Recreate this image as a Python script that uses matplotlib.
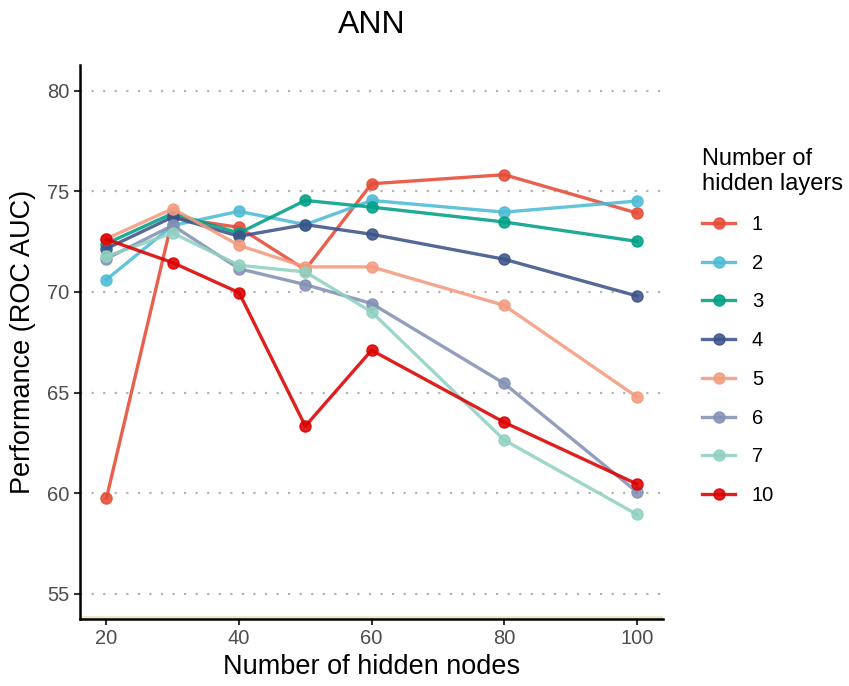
import matplotlib.pyplot as plt
from matplotlib.lines import Line2D

plt.rcParams['font.family'] = ['Liberation Sans', 'DejaVu Sans']

nodes = [20, 30, 40, 50, 60, 80, 100]
layers = ['1', '2', '3', '4', '5', '6', '7', '10']
colors = ['#E64B35', '#4DBBD5', '#00A087', '#3C5488',
          '#F39B7F', '#8491B4', '#91D1C2', '#DC0000']

auc_1 = [59.76, 73.7, 73.2, 71.1, 75.37, 75.82, 73.92]
auc_2 = [70.61, 73.3, 74.0, 73.34, 74.54, 73.96, 74.51]
auc_3 = [72.4, 73.9, 72.92, 74.54, 74.21, 73.47, 72.51]
auc_4 = [72.15, 73.72, 72.76, 73.34, 72.86, 71.62, 69.80]
auc_5 = [72.64, 74.13, 72.31, 71.24, 71.24, 69.33, 64.79]
auc_6 = [71.65, 73.30, 71.15, 70.36, 69.42, 65.45, 60.07]
auc_7 = [71.77, 72.92, 71.32, 70.99, 69.0, 62.64, 58.95]
auc_10 = [72.61, 71.45, 69.96, 63.33, 67.10, 63.52, 60.46]
all_auc = [auc_1, auc_2, auc_3, auc_4, auc_5, auc_6, auc_7, auc_10]

fig = plt.figure(figsize=(8.49, 6.86), dpi=100)
ax = fig.add_axes([0.0942, 0.0977, 0.687, 0.807])

# horizontal dotted grid
for yv in [55, 60, 65, 70, 75, 80]:
    ax.axhline(yv, color='#b3b3b3', lw=1.6, ls=(0, (1, 4.2)), zorder=0)

for vals, lab, c in zip(all_auc, layers, colors):
    ax.plot(nodes, vals, '-o', color=c, lw=2.4, ms=8, alpha=0.88, label=lab, zorder=2)

ax.set_xlim(16, 104)
ax.set_ylim(53.75, 81.25)
ax.set_xticks([20, 40, 60, 80, 100])
ax.set_yticks([55, 60, 65, 70, 75, 80])
ax.axhline(53.87, color='#ece9c0', lw=2, zorder=1)

for s in ['top', 'right']:
    ax.spines[s].set_visible(False)
for s in ['left', 'bottom']:
    ax.spines[s].set_linewidth(1.8)
ax.tick_params(labelsize=14.5, length=4, width=1.5, color='#333333', labelcolor='#4d4d4d')

ax.set_xlabel('Number of hidden nodes', fontsize=19.5, labelpad=4)
ax.set_ylabel('Performance (ROC AUC)', fontsize=19.5, labelpad=8)
ax.set_title('ANN', fontsize=23, pad=23)

handles = [Line2D([0], [0], color=c, lw=2.4, marker='o', ms=8, alpha=0.88) for c in colors]
leg = fig.legend(handles, layers, title='Number of\nhidden layers', loc='upper left',
                 bbox_to_anchor=(0.806, 0.811), frameon=False, fontsize=14.5,
                 title_fontsize=17, labelspacing=0.98, handlelength=1.6,
                 handletextpad=0.85)
leg._legend_box.align = 'left'

fig.savefig('out.png', dpi=100)
